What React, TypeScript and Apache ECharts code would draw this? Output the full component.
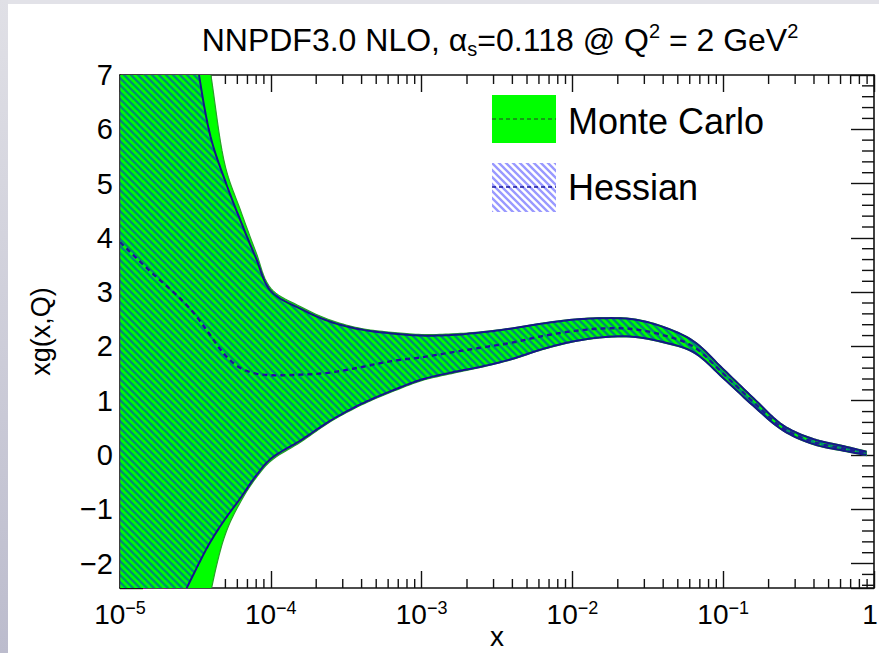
import React, { useEffect, useRef } from "react";
import * as echarts from "echarts";

// ---- data ----
const xValues = [
  1e-5, 1.58e-5, 2.51e-5, 3.16e-5, 3.98e-5, 5.01e-5, 6.31e-5, 7.94e-5, 1e-4,
  1.58e-4, 2.51e-4, 3.98e-4, 6.31e-4, 1e-3, 1.58e-3, 2.51e-3, 3.98e-3, 6.31e-3,
  1e-2, 1.58e-2, 2.51e-2, 3.98e-2, 6.31e-2, 0.1, 0.158, 0.251, 0.398, 0.631, 0.89,
];
const mcUpper = [
  20, 15, 10.5, 8.8, 7.05, 5.3, 4.5, 3.75, 3.07, 2.73, 2.48, 2.33, 2.26, 2.22,
  2.23, 2.27, 2.34, 2.43, 2.5, 2.53, 2.51, 2.37, 2.11, 1.59, 1.06, 0.55, 0.3, 0.17, 0.07,
];
const mcLower = [
  -25, -12, -6, -4.2, -2.55, -1.45, -0.86, -0.43, -0.11, 0.24, 0.62, 0.92, 1.16,
  1.37, 1.5, 1.62, 1.76, 1.94, 2.08, 2.16, 2.17, 2.07, 1.89, 1.41, 0.9, 0.44, 0.19, 0.07, -0.01,
];
const hessUpper = [
  18, 13, 9.0, 7.4, 5.87, 5.03, 4.31, 3.64, 3.02, 2.69, 2.45, 2.31, 2.24, 2.2,
  2.21, 2.26, 2.33, 2.42, 2.49, 2.52, 2.5, 2.36, 2.1, 1.58, 1.05, 0.54, 0.29, 0.16, 0.06,
];
const hessCentral = [
  3.92, 3.39, 2.88, 2.58, 2.2, 1.83, 1.6, 1.5, 1.47, 1.48, 1.52, 1.62, 1.73, 1.8,
  1.89, 1.98, 2.07, 2.19, 2.28, 2.33, 2.32, 2.21, 2.0, 1.5, 0.98, 0.49, 0.24, 0.12, 0.03,
];
const hessLower = [
  -9, -5, -2.75, -2.13, -1.6, -1.17, -0.79, -0.39, -0.07, 0.27, 0.64, 0.94, 1.18,
  1.39, 1.52, 1.63, 1.77, 1.95, 2.09, 2.17, 2.18, 2.08, 1.9, 1.42, 0.91, 0.45, 0.2, 0.08, 0.0,
];

const X_MIN = 1e-5;
const X_MAX = 1;
const Y_MIN = -2.45;
const Y_MAX = 7;
const decades = [1e-5, 1e-4, 1e-3, 1e-2, 1e-1];
const minorMultipliers = [2, 3, 4, 5, 6, 7, 8, 9];
const yMinorStep = 0.2;

const legendItems = ["Monte Carlo", "Hessian"];
const titleRich =
  "{a|NNPDF3.0 NLO, α}{sub|s}{a|=0.118 @ Q}{sup|2}{a| = 2 GeV}{sup|2}";

const FONT = '"Liberation Sans", Arial, Helvetica, sans-serif';

function makeHatch(bg: string | null, alpha: number) {
  const s = 7;
  const c = document.createElement("canvas");
  c.width = s;
  c.height = s;
  const ctx = c.getContext("2d")!;
  if (bg) {
    ctx.fillStyle = bg;
    ctx.fillRect(0, 0, s, s);
  }
  ctx.strokeStyle = `rgba(0,0,255,${alpha})`;
  ctx.lineWidth = 2.4;
  ctx.beginPath();
  for (let k = -1; k <= 1; k++) {
    ctx.moveTo(k * s - 1, -1);
    ctx.lineTo(k * s + s + 1, s + 1);
  }
  ctx.stroke();
  return { image: c, repeat: "repeat", imageWidth: s, imageHeight: s } as any;
}

// centripetal Catmull-Rom through pixel points (rendering only)
function smoothPts(p: number[][], seg = 10): number[][] {
  const n = p.length;
  if (n < 3) return p.slice();
  const out: number[][] = [];
  const d = (a: number[], b: number[]) =>
    Math.max(Math.sqrt(Math.hypot(b[0] - a[0], b[1] - a[1])), 1e-4);
  for (let i = 0; i < n - 1; i++) {
    const P1 = p[i];
    const P2 = p[i + 1];
    const P0 = i > 0 ? p[i - 1] : [2 * P1[0] - P2[0], 2 * P1[1] - P2[1]];
    const P3 = i + 2 < n ? p[i + 2] : [2 * P2[0] - P1[0], 2 * P2[1] - P1[1]];
    const t0 = 0;
    const t1 = t0 + d(P0, P1);
    const t2 = t1 + d(P1, P2);
    const t3 = t2 + d(P2, P3);
    for (let k = 0; k < seg; k++) {
      const t = t1 + ((t2 - t1) * k) / seg;
      const pt: number[] = [0, 0];
      for (let c = 0; c < 2; c++) {
        const A1 = ((t1 - t) / (t1 - t0)) * P0[c] + ((t - t0) / (t1 - t0)) * P1[c];
        const A2 = ((t2 - t) / (t2 - t1)) * P1[c] + ((t - t1) / (t2 - t1)) * P2[c];
        const A3 = ((t3 - t) / (t3 - t2)) * P2[c] + ((t - t2) / (t3 - t2)) * P3[c];
        const B1 = ((t2 - t) / (t2 - t0)) * A1 + ((t - t0) / (t2 - t0)) * A2;
        const B2 = ((t3 - t) / (t3 - t1)) * A2 + ((t - t1) / (t3 - t1)) * A3;
        pt[c] = ((t2 - t) / (t2 - t1)) * B1 + ((t - t1) / (t2 - t1)) * B2;
      }
      out.push(pt);
    }
  }
  out.push(p[n - 1]);
  return out;
}

export default function App() {
  const ref = useRef<HTMLDivElement>(null);

  useEffect(() => {
    if (!ref.current) return;
    const chart = echarts.init(ref.current, null, { renderer: "svg" });

    const hatchBand = makeHatch(null, 0.45);
    const hatchLegend = makeHatch("#ffffff", 0.4);

    const xMinor: number[][] = [];
    decades.forEach((d) =>
      minorMultipliers.forEach((m) => xMinor.push([d * m, 0]))
    );
    const yMinor: number[][] = [];
    for (let i = Math.ceil(Y_MIN / yMinorStep); i * yMinorStep <= Y_MAX + 1e-9; i++) {
      const v = Math.round(i * yMinorStep * 10) / 10;
      if (Math.abs(v - Math.round(v)) > 1e-6) yMinor.push([X_MIN, v]);
    }

    const bandData = xValues.map((x, i) => [x, mcUpper[i], mcLower[i]]);
    const hessBandData = xValues.map((x, i) => [x, hessUpper[i], hessLower[i]]);
    const centralData = xValues.map((x, i) => [x, hessCentral[i]]);

    const tickStyle = { stroke: "#111", lineWidth: 1.4 };
    const axisLineStyle = { color: "#111", width: 1.6 };
    const majorTickStyle = { color: "#111", width: 1.4 };

    const chain = (api: any, ys: number[]) =>
      smoothPts(xValues.map((x, i) => api.coord([x, ys[i]])));

    const option: any = {
      animation: false,
      backgroundColor: "#ffffff",
      grid: {
        left: 120,
        right: 5,
        top: 75,
        bottom: 65,
        containLabel: false,
        outerBoundsMode: "none",
      },
      xAxis: [
        {
          type: "log",
          logBase: 10,
          min: X_MIN,
          max: X_MAX,
          position: "bottom",
          name: "x",
          nameLocation: "middle",
          nameGap: 34,
          nameMoveOverlap: false,
          nameTextStyle: { fontSize: 28, fontFamily: FONT, color: "#000" },
          axisLine: { show: true, onZero: false, lineStyle: axisLineStyle },
          axisTick: { show: true, inside: true, length: 17, lineStyle: majorTickStyle },
          splitLine: { show: false },
          axisLabel: {
            margin: 11,
            color: "#000",
            fontFamily: FONT,
            formatter: (v: number) => {
              const e = Math.round(Math.log10(v));
              if (e === 0) return "{o|1}";
              return "{b|10}{e|" + String(e).replace("-", "\u2212") + "}";
            },
            rich: {
              b: { fontSize: 28, fontFamily: FONT, color: "#000", lineHeight: 30 },
              o: { fontSize: 28, fontFamily: FONT, color: "#000", lineHeight: 30, padding: [0, 8, 0, 0] },
              e: { fontSize: 18, fontFamily: FONT, color: "#000", lineHeight: 18, verticalAlign: "top" },
            },
          },
        },
        {
          type: "log",
          logBase: 10,
          min: X_MIN,
          max: X_MAX,
          position: "top",
          axisLine: { show: true, onZero: false, lineStyle: axisLineStyle },
          axisTick: { show: true, inside: true, length: 17, lineStyle: majorTickStyle },
          axisLabel: { show: false },
          splitLine: { show: false },
        },
      ],
      yAxis: [
        {
          type: "value",
          min: Y_MIN,
          max: Y_MAX,
          splitNumber: 9,
          position: "left",
          name: "xg(x,Q)",
          nameLocation: "middle",
          nameGap: 66,
          nameRotate: 90,
          nameMoveOverlap: false,
          nameTextStyle: { fontSize: 27, fontFamily: FONT, color: "#000" },
          axisLine: { show: true, onZero: false, lineStyle: axisLineStyle },
          axisTick: { show: true, inside: true, length: 23, lineStyle: majorTickStyle },
          splitLine: { show: false },
          axisLabel: {
            margin: 7,
            fontSize: 29,
            fontFamily: FONT,
            color: "#000",
            formatter: (v: number) =>
              Math.abs(v - Math.round(v)) < 1e-6
                ? String(Math.round(v)).replace("-", "\u2212")
                : "",
          },
        },
        {
          type: "value",
          min: Y_MIN,
          max: Y_MAX,
          splitNumber: 9,
          position: "right",
          axisLine: { show: true, onZero: false, lineStyle: axisLineStyle },
          axisTick: { show: true, inside: true, length: 23, lineStyle: majorTickStyle },
          axisLabel: { show: false },
          splitLine: { show: false },
        },
      ],
      graphic: [
        {
          type: "rect",
          shape: { x: 0, y: 0, width: 879, height: 4 },
          style: { fill: "#e2e2e8" },
          z: 100,
        },
        {
          type: "rect",
          shape: { x: 0, y: 0, width: 8, height: 653 },
          style: {
            fill: new echarts.graphic.LinearGradient(0, 0, 0, 1, [
              { offset: 0, color: "#e0e0e6" },
              { offset: 1, color: "#bcbccd" },
            ]),
          },
          z: 100,
        },
        {
          type: "text",
          x: 500,
          y: 40,
          style: {
            text: titleRich,
            fill: "#000",
            align: "center",
            verticalAlign: "middle",
            rich: {
              a: { fontSize: 32, fontFamily: FONT, fill: "#000", lineHeight: 38 },
              sub: { fontSize: 20, fontFamily: FONT, fill: "#000", lineHeight: 16, verticalAlign: "bottom" },
              sup: { fontSize: 20, fontFamily: FONT, fill: "#000", lineHeight: 18, verticalAlign: "top" },
            },
          },
          z: 100,
        },
        // legend: Monte Carlo
        {
          type: "rect",
          shape: { x: 492, y: 95, width: 64, height: 48 },
          style: { fill: "#00ff00" },
          z: 100,
        },
        {
          type: "line",
          shape: { x1: 492, y1: 119, x2: 556, y2: 119 },
          style: { stroke: "#2a3a2a", lineWidth: 1.2, lineDash: [4, 3] },
          z: 101,
        },
        {
          type: "text",
          x: 568,
          y: 121,
          style: {
            text: legendItems[0],
            fontSize: 36,
            fontFamily: FONT,
            fill: "#000",
            verticalAlign: "middle",
          },
          z: 100,
        },
        // legend: Hessian
        {
          type: "rect",
          shape: { x: 492, y: 163, width: 64, height: 49 },
          style: { fill: hatchLegend },
          z: 100,
        },
        {
          type: "line",
          shape: { x1: 492, y1: 187, x2: 556, y2: 187 },
          style: { stroke: "#1a1aa0", lineWidth: 1.4, lineDash: [4, 3] },
          z: 101,
        },
        {
          type: "text",
          x: 568,
          y: 187,
          style: {
            text: legendItems[1],
            fontSize: 36,
            fontFamily: FONT,
            fill: "#000",
            verticalAlign: "middle",
          },
          z: 100,
        },
      ],
      series: [
        {
          name: "x minor ticks",
          type: "custom",
          coordinateSystem: "cartesian2d",
          silent: true,
          z: 1,
          data: xMinor,
          renderItem: (params: any, api: any) => {
            const x = api.value(0);
            const b = api.coord([x, Y_MIN]);
            const t = api.coord([x, Y_MAX]);
            return {
              type: "group",
              children: [
                { type: "line", shape: { x1: b[0], y1: b[1], x2: b[0], y2: b[1] - 9 }, style: tickStyle },
                { type: "line", shape: { x1: t[0], y1: t[1], x2: t[0], y2: t[1] + 9 }, style: tickStyle },
              ],
            };
          },
        },
        {
          name: "y minor ticks",
          type: "custom",
          coordinateSystem: "cartesian2d",
          silent: true,
          z: 1,
          data: yMinor,
          renderItem: (params: any, api: any) => {
            const y = api.value(1);
            const l = api.coord([X_MIN, y]);
            const r = api.coord([X_MAX, y]);
            return {
              type: "group",
              children: [
                { type: "line", shape: { x1: l[0], y1: l[1], x2: l[0] + 12, y2: l[1] }, style: tickStyle },
                { type: "line", shape: { x1: r[0], y1: r[1], x2: r[0] - 12, y2: r[1] }, style: tickStyle },
              ],
            };
          },
        },
        {
          name: "Monte Carlo",
          type: "custom",
          coordinateSystem: "cartesian2d",
          silent: true,
          clip: true,
          z: 2,
          data: bandData,
          encode: { x: 0, y: [1, 2] },
          renderItem: (params: any, api: any) => {
            if (params.dataIndex !== 0) return null;
            const up = chain(api, mcUpper);
            const lo = chain(api, mcLower);
            return {
              type: "polygon",
              shape: { points: up.concat(lo.reverse()) },
              style: { fill: "#00ff00", stroke: "#2aa02a", lineWidth: 1.2 },
            };
          },
        },
        {
          name: "Hessian",
          type: "custom",
          coordinateSystem: "cartesian2d",
          silent: true,
          clip: true,
          z: 3,
          data: hessBandData,
          encode: { x: 0, y: [1, 2] },
          renderItem: (params: any, api: any) => {
            if (params.dataIndex !== 0) return null;
            const up = chain(api, hessUpper);
            const lo = chain(api, hessLower);
            return {
              type: "group",
              children: [
                {
                  type: "polygon",
                  shape: { points: up.concat(lo.slice().reverse()) },
                  style: { fill: hatchBand },
                },
                {
                  type: "polyline",
                  shape: { points: up },
                  style: { fill: "none", stroke: "#16168a", lineWidth: 2 },
                },
                {
                  type: "polyline",
                  shape: { points: lo },
                  style: { fill: "none", stroke: "#16168a", lineWidth: 2 },
                },
              ],
            };
          },
        },
        {
          name: "Hessian central",
          type: "custom",
          coordinateSystem: "cartesian2d",
          silent: true,
          clip: true,
          z: 5,
          data: centralData,
          renderItem: (params: any, api: any) => {
            if (params.dataIndex !== 0) return null;
            return {
              type: "polyline",
              shape: { points: chain(api, hessCentral) },
              style: { fill: "none", stroke: "#1c1c92", lineWidth: 2.4, lineDash: [5, 4] },
            };
          },
        },
      ],
    };

    chart.setOption(option);
    return () => chart.dispose();
  }, []);

  return (
    <div
      ref={ref}
      style={{ position: "absolute", left: 0, top: 0, width: 879, height: 653 }}
    />
  );
}
